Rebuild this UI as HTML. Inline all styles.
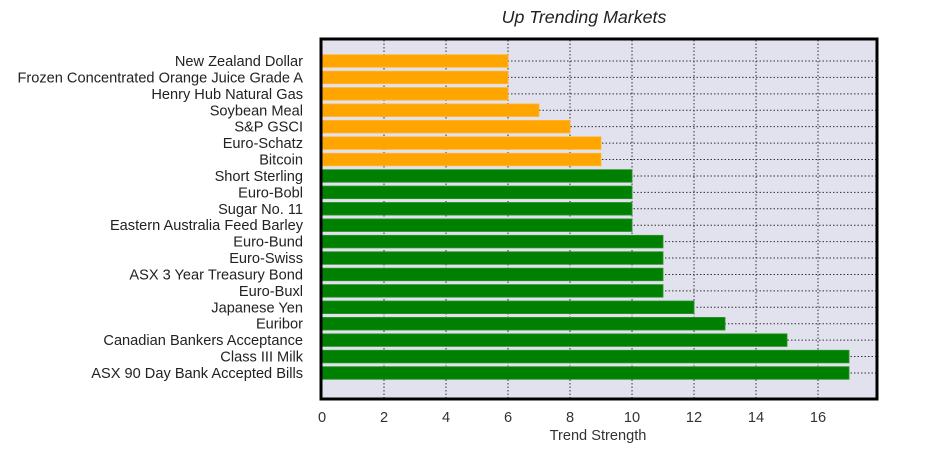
<!DOCTYPE html>
<html><head><meta charset="utf-8"><style>
body{margin:0;background:#fff;width:938px;height:454px;overflow:hidden}
text{font-family:"Liberation Sans",sans-serif}
</style></head><body>
<svg id="chart" width="938" height="454" xmlns="http://www.w3.org/2000/svg"></svg>
<script>
const categories=["New Zealand Dollar","Frozen Concentrated Orange Juice Grade A","Henry Hub Natural Gas","Soybean Meal","S&P GSCI","Euro-Schatz","Bitcoin","Short Sterling","Euro-Bobl","Sugar No. 11","Eastern Australia Feed Barley","Euro-Bund","Euro-Swiss","ASX 3 Year Treasury Bond","Euro-Buxl","Japanese Yen","Euribor","Canadian Bankers Acceptance","Class III Milk","ASX 90 Day Bank Accepted Bills"];
const values=[6,6,6,7,8,9,9,10,10,10,10,11,11,11,11,12,13,15,17,17];
const groups=["o","o","o","o","o","o","o","g","g","g","g","g","g","g","g","g","g","g","g","g"];
const xTicks=[0,2,4,6,8,10,12,14,16];
const NS="http://www.w3.org/2000/svg";
const svg=document.getElementById('chart');
const L=322,R=876,T=40,B=398,xMax=17.87;
const x=v=>L+v/xMax*(R-L);
const y0=61,step=16.42;
const y=i=>y0+i*step;
function mk(t,a,p){const e=document.createElementNS(NS,t);for(const k in a)e.setAttribute(k,a[k]);(p||svg).appendChild(e);return e;}
let e=mk('rect',{x:L,y:T,width:R-L,height:B-T,fill:'#e2e2ee'});

xTicks.forEach(t=>{const g=mk('line',{x1:x(t),x2:x(t),y1:T,y2:B,stroke:'#333','stroke-width':1,'stroke-dasharray':'1.5,2'});

const l=mk('text',{x:x(t),y:422,'text-anchor':'middle','font-size':14.6,fill:'#333'});l.textContent=t;
});
categories.forEach((c,i)=>{const g=mk('line',{x1:L,x2:R,y1:y(i),y2:y(i),stroke:'#333','stroke-width':1,'stroke-dasharray':'1.5,2'});
});
categories.forEach((c,i)=>{const b=mk('rect',{x:L,y:y(i)-6.3,width:x(values[i])-L,height:12.6,fill:groups[i]=='o'?'#ffa500':'#008000',stroke:groups[i]=='o'?'#ffb733':'#2a942a','stroke-width':0.8});

const l=mk('text',{x:303,y:y(i)+5,'text-anchor':'end','font-size':14.6,fill:'#222'});l.textContent=c;
});
e=mk('rect',{x:L-1,y:T-1,width:R-L+2,height:B-T+2,fill:'none',stroke:'#000','stroke-width':3});

e=mk('text',{x:584,y:23,'text-anchor':'middle','font-size':17.8,'font-style':'italic',fill:'#222'});e.textContent='Up Trending Markets';

e=mk('text',{x:598,y:440,'text-anchor':'middle','font-size':14.6,fill:'#333'});e.textContent='Trend Strength';

</script>
</body></html>
